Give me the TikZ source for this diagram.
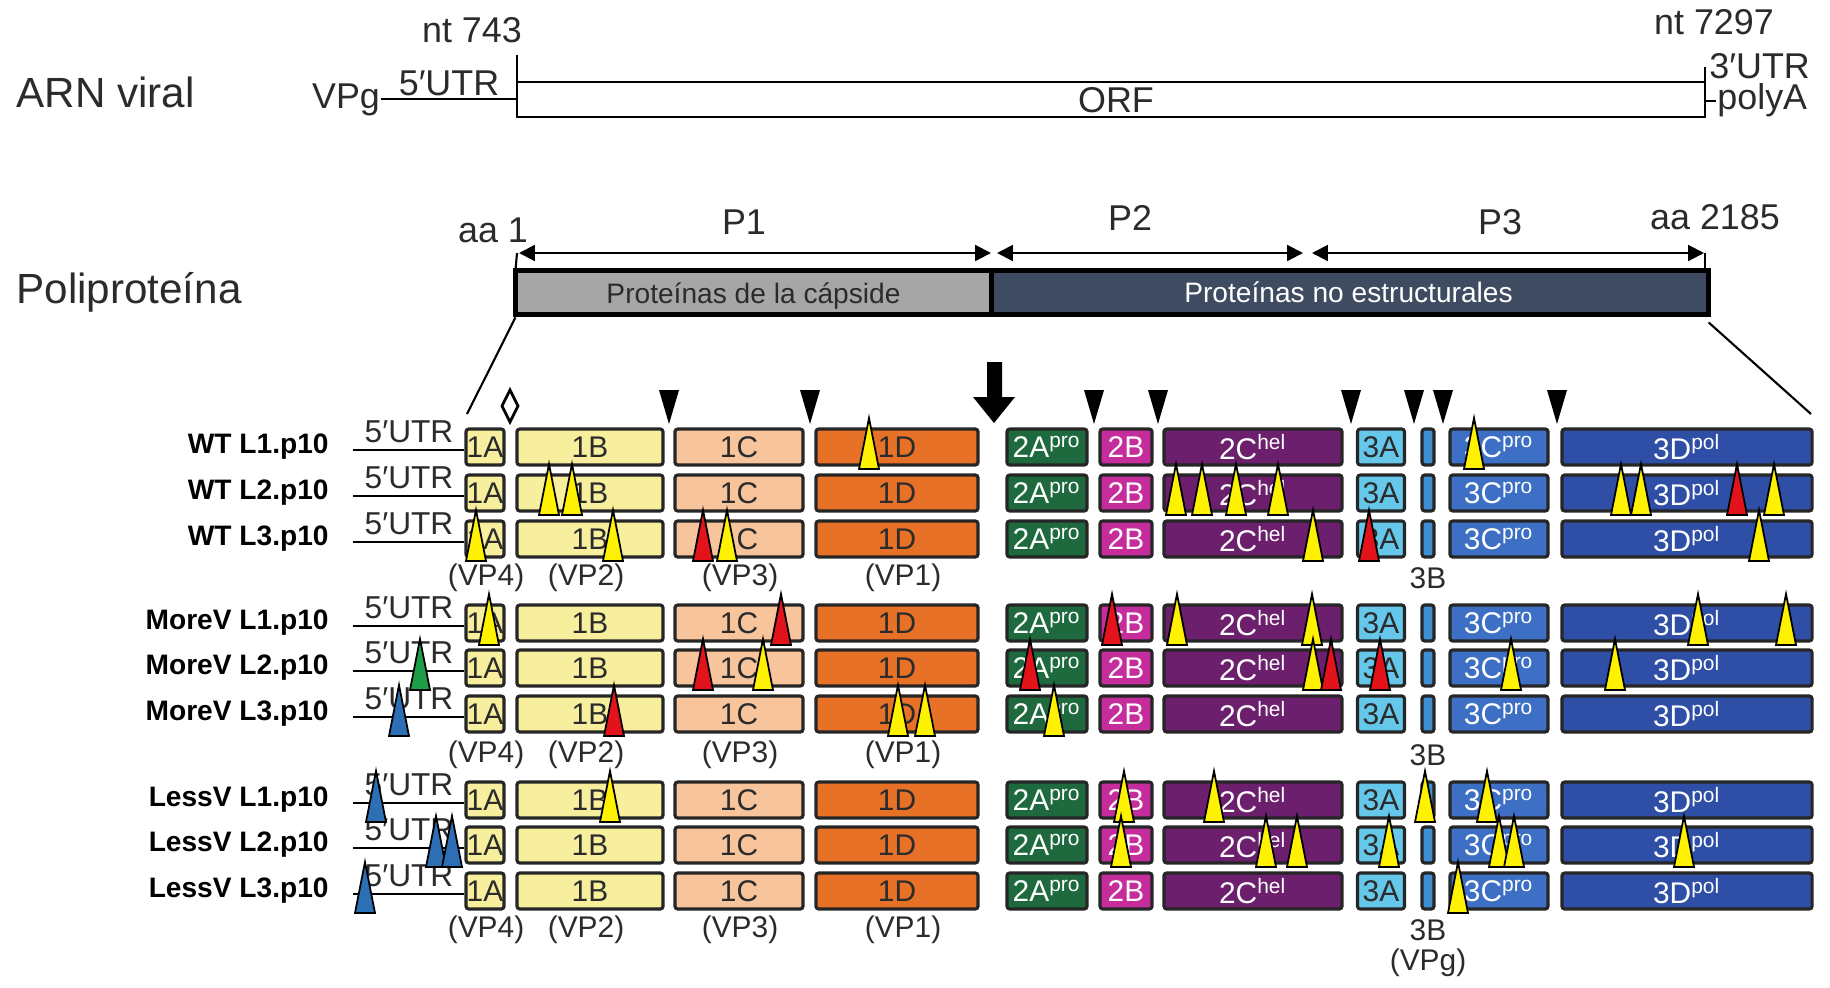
\documentclass[tikz,border=0pt]{standalone}
\usepackage{fontspec}
\setmainfont{Liberation Sans}
\usetikzlibrary{arrows.meta}

\definecolor{txt}{HTML}{2B2B2B}
\definecolor{capsgrey}{HTML}{A6A6A6}
\definecolor{nsblue}{HTML}{3E4B60}
\definecolor{c1a}{HTML}{F7EE9E}
\definecolor{c1c}{HTML}{F7C49C}
\definecolor{c1d}{HTML}{E67127}
\definecolor{c2a}{HTML}{1E6A3E}
\definecolor{c2b}{HTML}{C52C9C}
\definecolor{c2c}{HTML}{6B1F6D}
\definecolor{c3a}{HTML}{65C7EA}
\definecolor{c3b}{HTML}{3F8FD3}
\definecolor{c3c}{HTML}{3D70C4}
\definecolor{c3d}{HTML}{2E4FA5}
\definecolor{mkyel}{HTML}{FFF200}
\definecolor{mkred}{HTML}{E3131B}
\definecolor{mkgreen}{HTML}{1E9E48}
\definecolor{mkblue}{HTML}{2D6FB5}

\begin{document}
\begin{tikzpicture}[x=0.01cm,y=-0.01cm,line width=0.8pt,
    every node/.style={inner sep=0pt,text=txt},
    big/.style={font=\fontsize{12}{14}\selectfont},
    lbl/.style={font=\fontsize{10.2}{12}\selectfont},
    barlab/.style={font=\fontsize{8}{10}\selectfont},
    small/.style={font=\fontsize{8.5}{10}\selectfont},
    utr/.style={font=\fontsize{9}{10}\selectfont},
    rowlab/.style={font=\fontsize{8}{10}\selectfont\bfseries,text=black,anchor=east},
    prot/.style={draw=black!85,line width=0.9pt,rounded corners=0.8pt,minimum height=3.6mm,font=\fontsize{8.5}{10}\selectfont},
    mk/.style={draw=black,line width=0.5pt}]
  \useasboundingbox (0,0) rectangle (1830,987);
  % viral RNA
  \node[big,anchor=west] (rna) at (15,92) {ARN viral};
  \node[lbl] (vpg) at (346,100) {VPg};
  \node[lbl] (utr5) at (449,83) {5′UTR};
  \node[lbl] (nt1) at (472,30) {nt 743};
  \node[lbl] (nt2) at (1714,22) {nt 7297};
  \coordinate (orfa) at (517,99);
  \draw (orfa -| vpg.east) -- (orfa);
  \draw (517,55) -- (517,117) -- (1705,117) -- (1705,67);
  \draw (517,82) -- (1705,82);
  \node[lbl] (orf) at (1116,100) {ORF};
  \node[lbl,anchor=west] (utr3) at (1708,66) {3′UTR};
  \coordinate (pa) at (1705,101);
  \node[lbl,anchor=west] (polya) at (1716,100) {polyA};
  \draw (pa) -- (polya.west |- pa);
  % polyprotein
  \node[big,anchor=west] (poly) at (15,292) {Poliproteína};
  \node[lbl] (aa1) at (493,230) {aa 1};
  \node[lbl] (aa2) at (1715,217) {aa 2185};
  \node[lbl] (p1) at (744,222) {P1};
  \node[lbl] (p2) at (1130,218) {P2};
  \node[lbl] (p3) at (1500,222) {P3};
  \node[fill=capsgrey,minimum width=47.3mm,minimum height=4.1mm] (capside) at (753.5,292.5) {};
  \node[fill=nsblue,minimum width=71.7mm,minimum height=4.1mm] (noestr) at (1348.5,292.5) {};
  \draw[line width=1.5pt] (capside.north west) rectangle (noestr.south east);
  \draw[line width=1.5pt] (capside.north east) -- (capside.south east);
  \node[barlab] at ([yshift=-1pt]capside) {Proteínas de la cápside};
  \node[barlab,text=white] at (noestr) {Proteínas no estructurales};
  \coordinate (a1) at (519,253);
  \coordinate (a2) at (991,253);
  \coordinate (a3) at (997,253);
  \coordinate (a4) at (1303,253);
  \coordinate (a5) at (1312,253);
  \coordinate (a6) at (1704,253);
  \draw[line width=0.6pt,{Triangle[length=4.5pt,width=4.5pt]}-{Triangle[length=4.5pt,width=4.5pt]}] (a1) -- (a2);
  \draw[line width=0.6pt,{Triangle[length=4.5pt,width=4.5pt]}-{Triangle[length=4.5pt,width=4.5pt]}] (a3) -- (a4);
  \draw[line width=0.6pt,{Triangle[length=4.5pt,width=4.5pt]}-{Triangle[length=4.5pt,width=4.5pt]}] (a5) -- (a6);
  \draw[line width=0.6pt] (517,253) -- (capside.north west);
  \draw[line width=0.6pt] (1705,253) -- (1705,272);
  % zoom lines
  \coordinate (zl) at (467,414);
  \coordinate (zr) at (1811,414);
  \draw[line width=0.6pt] (capside.south west) ++(0,3) -- (zl);
  \draw[line width=0.6pt] (noestr.south east) ++(0,8) -- (zr);
  % cleavage sites
  \draw[line width=0.8pt] (510,390) -- (518,406) -- (510,422) -- (502,406) -- cycle;
  \foreach \x in {669,810,1094,1158,1351,1414,1443,1557}
    \fill (\x-10,390) -- (\x+10,390) -- (\x,424) -- cycle;
  \fill (987,362) -- (1002,362) -- (1002,397) -- (1015,397) -- (994,423) -- (973,397) -- (987,397) -- cycle;
  % lines
  \foreach \y/\lab [count=\r] in {447/WT L1.p10,493/WT L2.p10,539/WT L3.p10,623/MoreV L1.p10,668/MoreV L2.p10,714/MoreV L3.p10,800/LessV L1.p10,845/LessV L2.p10,891/LessV L3.p10} {
    \node[rowlab] (lab\r) at (330,\y) {\lab};
    \foreach \p/\xc/\w/\col/\tc/\txt in {1A/485/38/c1a/txt/1A,1B/590/146/c1a/txt/1B,1C/739/128/c1c/txt/1C,1D/897/162/c1d/txt/1D,2A/1047/80/c2a/white/2A\textsuperscript{pro},2B/1126/52/c2b/white/2B,2C/1253/178/c2c/white/2C\textsuperscript{hel},3A/1381/47/c3a/txt/3A,3B/1428/12/c3b/white/{},3C/1499/98/c3c/white/3C\textsuperscript{pro},3D/1687/250/c3d/white/3D\textsuperscript{pol}}
      \node[prot,fill=\col,text=\tc,minimum width=\w*0.1mm] (\p-\r) at (\xc,\y) {\txt};
    \coordinate (utr\r) at (353,\y+3);
    \draw (utr\r) -- (1A-\r.west |- utr\r);
    \node[utr] (u\r) at (409,\y-15) {5′UTR};
  }
  \foreach \y [count=\g] in {578,755,930} {
    \node[small] (vp4\g) at (486,\y) {(VP4)};
    \node[small] (vp2\g) at (586,\y) {(VP2)};
    \node[small] (vp3\g) at (740,\y) {(VP3)};
    \node[small] (vp1\g) at (903,\y) {(VP1)};
    \node[small] (tb\g) at (1428,\y) {3B};
  }
  \node[small] (vpgb) at (1428,963) {(VPg)};
  % mutations
  \foreach \x/\y/\c in {869/447/mkyel,1474/447/mkyel,
      549/493/mkyel,572/493/mkyel,1176/493/mkyel,1202/493/mkyel,1236/493/mkyel,1278/493/mkyel,1621/493/mkyel,1641/493/mkyel,1737/493/mkred,1774/493/mkyel,
      476/539/mkyel,613/539/mkyel,703/539/mkred,727/539/mkyel,1313/539/mkyel,1369/539/mkred,1759/539/mkyel,
      489/623/mkyel,781/623/mkred,1112/623/mkred,1177/623/mkyel,1312/623/mkyel,1698/623/mkyel,1786/623/mkyel,
      420/668/mkgreen,703/668/mkred,763/668/mkyel,1030/668/mkred,1313/668/mkyel,1331/668/mkred,1380/668/mkred,1511/668/mkyel,1615/668/mkyel,
      399/714/mkblue,614/714/mkred,898/714/mkyel,925/714/mkyel,1054/714/mkyel,
      376/800/mkblue,610/800/mkyel,1124/800/mkyel,1214/800/mkyel,1425/800/mkyel,1487/800/mkyel,
      436/845/mkblue,452/845/mkblue,1121/845/mkyel,1266/845/mkyel,1297/845/mkyel,1389/845/mkyel,1499/845/mkyel,1514/845/mkyel,1684/845/mkyel,
      365/891/mkblue,1458/891/mkyel}
    \filldraw[mk,fill=\c] (\x-10,\y+22) -- (\x,\y-29) -- (\x+10,\y+22) -- cycle;
\end{tikzpicture}
\end{document}
